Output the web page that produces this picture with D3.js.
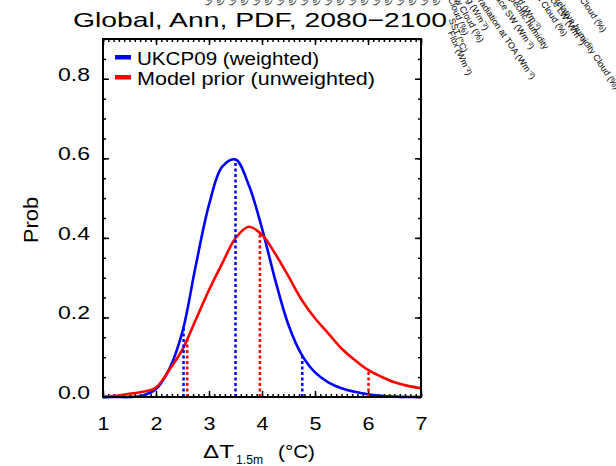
<!DOCTYPE html>
<html>
<head>
<meta charset="utf-8">
<script src="https://cdn.jsdelivr.net/npm/d3@7"></script>
<style>
  html, body { margin: 0; padding: 0; background: #fff; }
  svg { display: block; font-family: "Liberation Sans", Arial, Helvetica, sans-serif; }
</style>
</head>
<body>
<svg id="chart" width="616" height="466"></svg>
<script>
// Warming (°C) at which each PDF is sampled
const temperature = [1.0, 1.25, 1.5, 1.75, 2.0, 2.25, 2.5, 2.75, 3.0, 3.25, 3.5, 3.75, 4.0,
                     4.25, 4.5, 4.75, 5.0, 5.25, 5.5, 5.75, 6.0, 6.25, 6.5, 6.75, 7.0];
// UKCP09 weighted PDF
const ukcp09Weighted = [0, 0, 0, 0.004, 0.02, 0.07, 0.165, 0.33, 0.483, 0.579, 0.597, 0.533, 0.424,
                        0.294, 0.181, 0.106, 0.062, 0.037, 0.022, 0.013, 0.007, 0.003, 0.001, 0, 0];
// Unweighted model prior PDF
const modelPrior = [0, 0.003, 0.008, 0.013, 0.024, 0.068, 0.12, 0.194, 0.269, 0.336, 0.399, 0.428, 0.408,
                    0.36, 0.303, 0.244, 0.198, 0.16, 0.122, 0.093, 0.068, 0.051, 0.037, 0.028, 0.022];
// 10th, 50th and 90th percentiles
const ukcp09Percentiles = [2.52, 3.50, 4.76];
const modelPriorPercentiles = [2.59, 3.96, 6.01];

const seriesNames = ["UKCP09 (weighted)", "Model prior (unweighted)"];
const seriesColors = ["#0000ff", "#ff0000"];
const xTickValues = [1, 2, 3, 4, 5, 6, 7];
const xTickLabels = ["1", "2", "3", "4", "5", "6", "7"];
const yTickValues = [0, 0.2, 0.4, 0.6, 0.8];
const yTickLabels = ["0.0", "0.2", "0.4", "0.6", "0.8"];
const titleText = "Global, Ann, PDF, 2080\u22122100";

// Variable names of the neighbouring panel, running off the top edge
const sideLabels = ["Cloud (%)", "SST (°C)", "Flux (Wm⁻²)", "Outgoing (Wm⁻²)", "Low Cloud (%)",
                    "Outgoing radiation at TOA (Wm⁻²)", "Surface SW (Wm⁻²)", "Specific humidity",
                    "Upward (Wm⁻²)", "High Cloud (%)", "Surface LW (Wm⁻²)",
                    "Relative humidity Cloud (%)", "Total Cloud (%)"];
const sideLabelEnds = [[463, 36], [462, 53], [467, 76], [484, 31], [479, 43], [531, 80], [530, 50],
                       [544, 50], [537, 31], [563, 37], [581, 46], [615, 90], [602, 33]];
const sideLabelAngles = [68, 68, 66, 60, 60, 56, 56, 56, 56, 56, 56, 56, 56];
const edgeLabels = ["(Wm⁻²)", "(%)"];

const svg = d3.select("#chart");
const plotL = 103, plotR = 421, plotT = 39, plotB = 397;
const x = d3.scaleLinear().domain([1, 7]).range([plotL, plotR]);
const y = d3.scaleLinear().domain([0, 0.9]).range([plotB, plotT]);
const FONT = "Liberation Sans, Arial, sans-serif";

// Title
svg.append("text")
  .attr("x", 73).attr("y", 27)
  .attr("font-size", 21)
  .attr("textLength", 374).attr("lengthAdjust", "spacingAndGlyphs")
  .text(titleText);

// Rotated labels of the adjacent panel, cut by the page edge
const sideG = svg.append("g").attr("font-size", 9).attr("fill", "#000");
sideLabels.forEach((t, i) => {
  const [ex, ey] = sideLabelEnds[i];
  sideG.append("text")
    .attr("transform", `translate(${ex},${ey}) rotate(${sideLabelAngles[i]})`)
    .attr("text-anchor", "end")
    .text(t);
});
d3.range(208, 440, 12).forEach((ex, i) => {
  sideG.append("text")
    .attr("transform", `translate(${ex},6) rotate(56)`)
    .attr("text-anchor", "end")
    .text(edgeLabels[i % 2]);
});

// Axes with inward ticks on all four sides
function styleAxis(g) {
  g.select(".domain").remove();
  g.selectAll(".tick line").attr("stroke", "#000").attr("stroke-width", 1.5);
}
const minorX = d3.range(10, 71).map(v => v / 10);
const minorY = d3.range(0, 19).map(v => v * 0.05);

svg.append("g").attr("transform", `translate(0,${plotB})`)
  .call(d3.axisBottom(x).tickValues(minorX).tickSize(-3).tickFormat(""))
  .call(styleAxis);
svg.append("g").attr("transform", `translate(0,${plotT})`)
  .call(d3.axisTop(x).tickValues(minorX).tickSize(-3).tickFormat(""))
  .call(styleAxis);
svg.append("g").attr("transform", `translate(0,${plotT})`)
  .call(d3.axisTop(x).tickValues(xTickValues).tickSize(-6).tickFormat(""))
  .call(styleAxis);
svg.append("g").attr("transform", `translate(0,${plotB})`)
  .call(d3.axisBottom(x).tickValues(xTickValues).tickSize(-6).tickPadding(19.5)
    .tickFormat((d, i) => xTickLabels[i]))
  .call(styleAxis)
  .call(g => g.selectAll("text").attr("font-size", 19).attr("fill", "#000")
    .attr("font-family", FONT)
    .attr("textLength", 12).attr("lengthAdjust", "spacingAndGlyphs"));

svg.append("g").attr("transform", `translate(${plotL},0)`)
  .call(d3.axisLeft(y).tickValues(minorY).tickSize(-3).tickFormat(""))
  .call(styleAxis);
svg.append("g").attr("transform", `translate(${plotR},0)`)
  .call(d3.axisRight(y).tickValues(minorY).tickSize(-3).tickFormat(""))
  .call(styleAxis);
svg.append("g").attr("transform", `translate(${plotR},0)`)
  .call(d3.axisRight(y).tickValues(yTickValues).tickSize(-6).tickFormat(""))
  .call(styleAxis);
svg.append("g").attr("transform", `translate(${plotL},0)`)
  .call(d3.axisLeft(y).tickValues(yTickValues).tickSize(-6).tickPadding(13)
    .tickFormat((d, i) => yTickLabels[i]))
  .call(styleAxis)
  .call(g => g.selectAll("text").attr("font-size", 19).attr("fill", "#000")
    .attr("font-family", FONT)
    .attr("dy", "0.08em")
    .attr("textLength", 32).attr("lengthAdjust", "spacingAndGlyphs"));

// Axis titles
svg.append("text")
  .attr("transform", "translate(38,220) rotate(-90)")
  .attr("text-anchor", "middle")
  .attr("font-size", 20)
  .attr("textLength", 46).attr("lengthAdjust", "spacingAndGlyphs")
  .text("Prob");
svg.append("text").attr("x", 203).attr("y", 458).attr("font-size", 19)
  .attr("textLength", 31).attr("lengthAdjust", "spacingAndGlyphs").text("ΔT");
svg.append("text").attr("x", 236).attr("y", 464).attr("font-size", 13)
  .attr("textLength", 27).attr("lengthAdjust", "spacingAndGlyphs").text("1.5m");
svg.append("text").attr("x", 278).attr("y", 458).attr("font-size", 19)
  .attr("textLength", 37).attr("lengthAdjust", "spacingAndGlyphs").text("(°C)");

// PDF curves
const series = [ukcp09Weighted, modelPrior];
const percentiles = [ukcp09Percentiles, modelPriorPercentiles];
const line = d3.line()
  .x((d, i) => x(temperature[i]))
  .y(d => y(d))
  .curve(d3.curveCatmullRom.alpha(0.5));

series.forEach((vals, s) => {
  svg.append("path")
    .datum(vals)
    .attr("d", line)
    .attr("fill", "none")
    .attr("stroke", seriesColors[s])
    .attr("stroke-width", 2.6)
    .attr("stroke-linejoin", "round");
});

// Percentile markers rise from the axis to the curve
function valueAt(vals, t) {
  const i = Math.min(temperature.length - 2, Math.max(0, d3.bisectRight(temperature, t) - 1));
  const f = (t - temperature[i]) / (temperature[i + 1] - temperature[i]);
  return vals[i] + f * (vals[i + 1] - vals[i]);
}
series.forEach((vals, s) => {
  svg.append("g").selectAll("line")
    .data(percentiles[s])
    .join("line")
    .attr("x1", d => x(d)).attr("x2", d => x(d))
    .attr("y1", y(0)).attr("y2", d => y(valueAt(vals, d)))
    .attr("stroke", seriesColors[s])
    .attr("stroke-width", 2.5)
    .attr("stroke-dasharray", "3,2.5");
});

// Plot frame
svg.append("rect")
  .attr("x", plotL).attr("y", plotT)
  .attr("width", plotR - plotL).attr("height", plotB - plotT)
  .attr("fill", "none").attr("stroke", "#000").attr("stroke-width", 2);

// Legend
const legendWidths = [182, 238];
seriesNames.forEach((name, s) => {
  const ly = 57 + s * 20;
  svg.append("rect")
    .attr("x", 115).attr("y", ly - 2)
    .attr("width", 16).attr("height", 4.5)
    .attr("fill", seriesColors[s]);
  svg.append("text")
    .attr("x", 137).attr("y", ly + 8)
    .attr("font-size", 19)
    .attr("textLength", legendWidths[s]).attr("lengthAdjust", "spacingAndGlyphs")
    .text(name);
});
</script>
</body>
</html>
